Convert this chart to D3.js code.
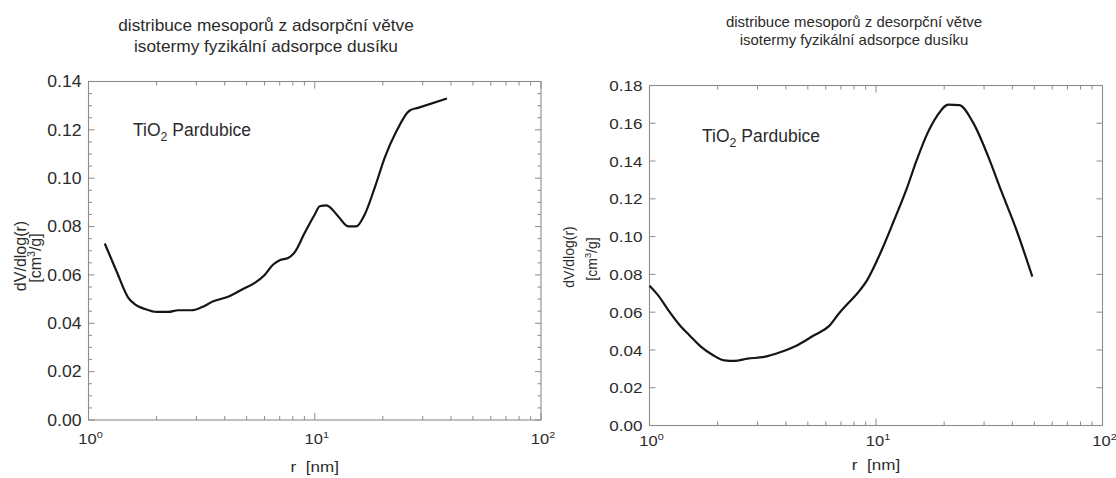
<!DOCTYPE html>
<html><head><meta charset="utf-8">
<script src="https://cdn.jsdelivr.net/npm/d3@7"></script>
<style>
body{margin:0;background:#fff}
text{font-family:"Liberation Sans",Arial,sans-serif;fill:#2b2b2b}
</style>
</head><body>
<svg id="c" width="1116" height="478"></svg>
<script>
// ---- data ----
const adsR = [1.18,1.33,1.50,1.61,1.78,2.0,2.25,2.49,2.86,3.16,3.56,4.14,4.75,5.43,6.02,6.55,7.0,7.62,8.16,9.03,10.0,10.52,11.26,12.68,14.03,15.28,16.63,18.4,20.37,22.95,26.28,28.6,38.4];
const adsV = [0.0730,0.0615,0.0505,0.0477,0.0459,0.0447,0.0447,0.0454,0.0454,0.0466,0.0491,0.0510,0.0539,0.0567,0.0601,0.0643,0.0661,0.0670,0.0694,0.0774,0.0850,0.0884,0.0888,0.0843,0.0801,0.0801,0.0850,0.0960,0.1084,0.1194,0.1280,0.1291,0.1330];
const desR = [1.0,1.09,1.21,1.36,1.50,1.69,1.91,2.14,2.37,2.71,3.21,3.80,4.50,5.33,6.20,6.86,7.46,8.26,9.14,10.45,11.96,13.69,15.15,16.77,18.55,20.87,23.33,26.88,31.27,35.8,41.7,49.0];
const desV = [0.0740,0.0690,0.0611,0.0531,0.0478,0.0416,0.0372,0.0345,0.0342,0.0354,0.0363,0.0389,0.0425,0.0478,0.0526,0.0593,0.0642,0.0699,0.0770,0.0912,0.1080,0.1257,0.1407,0.1540,0.1637,0.1699,0.1696,0.1602,0.1425,0.1239,0.1035,0.0788];
const yTicksAds = [0,0.02,0.04,0.06,0.08,0.10,0.12,0.14];
const yTicksDes = [0,0.02,0.04,0.06,0.08,0.10,0.12,0.14,0.16,0.18];
const xTickExps = [0,1,2];
const titleAds = ["distribuce mesoporů z adsorpční větve","isotermy fyzikální adsorpce dusíku"];
const titleDes = ["distribuce mesoporů z desorpční větve","isotermy fyzikální adsorpce dusíku"];
const yLabelTop = "dV/dlog(r)";
const yLabelUnit = ["[cm","3","/g]"];
const xLabel = "r  [nm]";
const sample = ["TiO","2"," Pardubice"];

const svg = d3.select("#c");
const GRAY = "#8c8c8c";

function sText(g, x, y, sx, size, anchor){
  return g.append("text")
    .attr("transform", `translate(${x},${y}) scale(${sx},1)`)
    .attr("font-size", size).attr("text-anchor", anchor);
}

function panel(cfg){
  const g = svg.append("g");
  const x = d3.scaleLog().domain([1,100]).range([cfg.x0,cfg.x1]);
  const y = d3.scaleLinear().domain([0,cfg.yMax]).range([cfg.y1,cfg.y0]);

  // frame
  g.append("rect").attr("x",cfg.x0).attr("y",cfg.y0)
    .attr("width",cfg.x1-cfg.x0).attr("height",cfg.y1-cfg.y0)
    .attr("fill","none").attr("stroke",GRAY).attr("stroke-width",1.1);

  // x ticks (log, inward, bottom and top)
  const xt = [];
  [1,10].forEach(d=>{ for(let m=1;m<=9;m++) xt.push({v:d*m, major:m===1}); });
  xt.push({v:100,major:true});
  xt.forEach(t=>{
    const L = t.major?7:4;
    g.append("line").attr("x1",x(t.v)).attr("x2",x(t.v)).attr("y1",cfg.y1).attr("y2",cfg.y1-L).attr("stroke",GRAY);
    g.append("line").attr("x1",x(t.v)).attr("x2",x(t.v)).attr("y1",cfg.y0).attr("y2",cfg.y0+L).attr("stroke",GRAY);
  });
  // y ticks
  const yt = cfg.yTicks.map(v=>({v,major:true}));
  if(cfg.minorStep){
    d3.range(0,cfg.yMax+1e-9,cfg.minorStep).forEach(v=>{
      if(!cfg.yTicks.some(t=>Math.abs(t-v)<1e-9)) yt.push({v,major:false});
    });
  }
  yt.forEach(t=>{
    const L = t.major?6:3.5;
    g.append("line").attr("x1",cfg.x0).attr("x2",cfg.x0+L).attr("y1",y(t.v)).attr("y2",y(t.v)).attr("stroke",GRAY);
    g.append("line").attr("x1",cfg.x1).attr("x2",cfg.x1-L).attr("y1",y(t.v)).attr("y2",y(t.v)).attr("stroke",GRAY);
  });

  // y tick labels
  const fmt = d3.format(".2f");
  cfg.yTicks.forEach(v=>{
    sText(g, cfg.x0-7, y(v)+cfg.tickFs*0.36, cfg.sx, cfg.tickFs, "end").text(fmt(v));
  });
  // x tick labels
  xTickExps.forEach(e=>{
    const t = sText(g, x(Math.pow(10,e))+2, cfg.xLabY, cfg.sx, cfg.xTickFs, "middle");
    t.append("tspan").text("10");
    t.append("tspan").attr("font-size",cfg.xTickFs*0.66).attr("dy",-cfg.xTickFs*0.38).text(String(e));
  });
  // x axis title
  sText(g, x(10), cfg.xTitleY, cfg.sx, cfg.axisFs, "middle").attr("xml:space","preserve").style("white-space","pre").text(xLabel);

  // y axis title (two rotated lines)
  const yc = cfg.yLabC;
  g.append("text").attr("transform",`translate(${cfg.yLab1X},${yc}) rotate(-90)`)
    .attr("font-size",cfg.yLabFs).attr("text-anchor","middle").text(yLabelTop);
  const u = g.append("text").attr("transform",`translate(${cfg.yLab2X},${yc+2}) rotate(-90)`)
    .attr("font-size",cfg.yLabFs).attr("text-anchor","middle");
  u.append("tspan").text(yLabelUnit[0]);
  u.append("tspan").attr("font-size",cfg.yLabFs*0.66).attr("dy",-cfg.yLabFs*0.4).text(yLabelUnit[1]);
  u.append("tspan").attr("dy",cfg.yLabFs*0.4).text(yLabelUnit[2]);

  // titles
  cfg.title.forEach((s,i)=>{
    sText(g, cfg.titleX, cfg.titleY + i*cfg.titleDy, cfg.titleSx, cfg.titleFs, "middle").text(s);
  });

  // sample annotation
  const a = g.append("text").attr("x",cfg.annX).attr("y",cfg.annY).attr("font-size",cfg.annFs);
  a.append("tspan").text(sample[0]);
  a.append("tspan").attr("font-size",cfg.annFs*0.7).attr("dy",cfg.annFs*0.3).text(sample[1]);
  a.append("tspan").attr("dy",-cfg.annFs*0.3).text(sample[2]);

  // data line
  const pts = cfg.r.map((r,i)=>[r,cfg.v[i]]);
  g.append("path").datum(pts)
    .attr("d", d3.line().x(d=>x(d[0])).y(d=>y(d[1])).curve(d3.curveMonotoneX))
    .attr("fill","none").attr("stroke","#151515").attr("stroke-width",2.2)
    .attr("stroke-linejoin","round").attr("stroke-linecap","butt");
}

panel({x0:88.5,x1:541,y0:81.5,y1:420,yMax:0.14,yTicks:yTicksAds,minorStep:0.005,
  r:adsR,v:adsV,sx:1.1,tickFs:16,xTickFs:15,xLabY:444,xTitleY:472,axisFs:15.5,
  yLab1X:26,yLab2X:41,yLabC:256,yLabFs:16,
  title:titleAds,titleX:266,titleY:31,titleDy:21,titleFs:16,titleSx:1.08,
  annX:133,annY:136,annFs:17.5});

panel({x0:649.5,x1:1102.5,y0:85.5,y1:425.5,yMax:0.18,yTicks:yTicksDes,minorStep:null,
  r:desR,v:desV,sx:1.1,tickFs:15.5,xTickFs:15,xLabY:446,xTitleY:470,axisFs:15.5,
  yLab1X:574,yLab2X:597,yLabC:257,yLabFs:14,
  title:titleDes,titleX:854,titleY:27,titleDy:17.5,titleFs:14,titleSx:1.07,
  annX:702,annY:142,annFs:17.5});
</script>
</body></html>
